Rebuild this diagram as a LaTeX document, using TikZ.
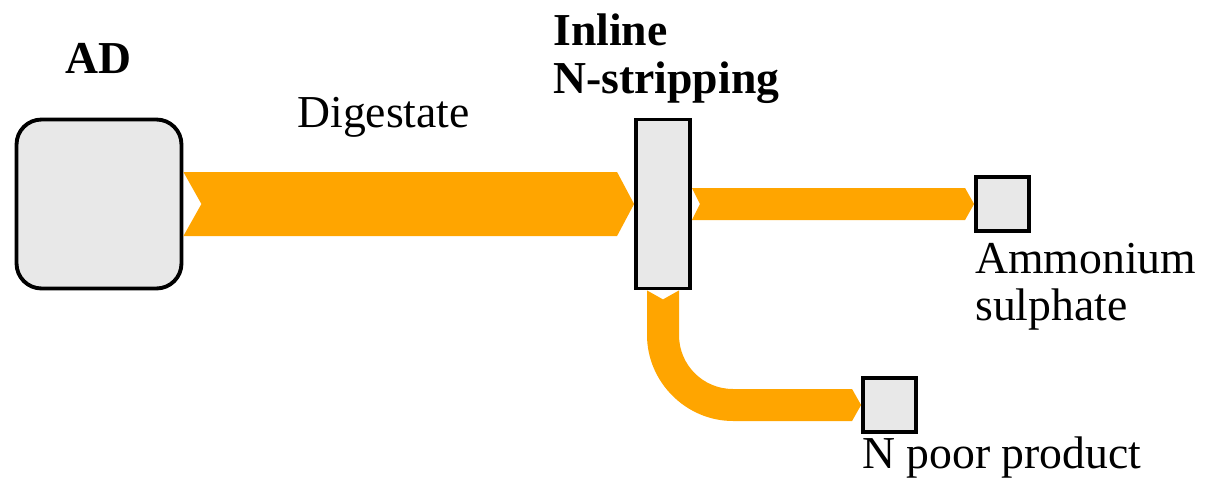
\documentclass[tikz,border=0pt]{standalone}
\usepackage{fontspec}
\setmainfont{Liberation Serif}
\usetikzlibrary{calc}
\definecolor{floworange}{HTML}{FFA500}
\definecolor{boxgray}{HTML}{E8E8E8}

\begin{document}
\begin{tikzpicture}[x=0.02cm,y=0.02cm,
	unit/.style={draw=black,fill=boxgray,line width=2.2pt,inner sep=0pt},
	flow/.style={fill=floworange},
	lbl/.style={inner sep=0pt,anchor=base west,align=left,font=\fontsize{26}{27}\selectfont}]
\useasboundingbox (0,0) rectangle (1208,488);
% process units
\node[unit,rounded corners=0.5cm,minimum width=3.3cm,minimum height=3.38cm] (ad) at (99,284) {};
\node[unit,minimum width=1.08cm,minimum height=3.38cm] (inline) at (663,284) {};
\node[unit,minimum width=1.06cm,minimum height=1.07cm] (amm) at (1002.5,284) {};
\node[unit,minimum width=1.06cm,minimum height=1.07cm] (npoor) at (889.5,83) {};
\coordinate (bend) at (inline.south |- npoor.west);

% flows
\fill[flow] ($(ad.east)+(0,32)$) -- ($(inline.west)+(-17,32)$) -- (inline.west)
	-- ($(inline.west)+(-17,-32)$) -- ($(ad.east)+(0,-32)$) -- ($(ad.east)+(18,0)$) -- cycle;
\fill[flow] ($(inline.east)+(0,16)$) -- ($(amm.west)+(-9,16)$) -- (amm.west)
	-- ($(amm.west)+(-9,-16)$) -- ($(inline.east)+(0,-16)$) -- ($(inline.east)+(8,0)$) -- cycle;
\fill[flow] ($(inline.south)+(-16,0)$) -- ($(inline.south)+(0,-9)$) -- ($(inline.south)+(16,0)$)
	-- ($(bend)+(16,70)$) .. controls ($(bend)+(16,40)$) and ($(bend)+(40,16)$) .. ($(bend)+(70,16)$)
	-- ($(npoor.west)+(-9,16)$) -- (npoor.west) -- ($(npoor.west)+(-9,-16)$)
	-- ($(bend)+(70,-16)$) .. controls ($(bend)+(23,-16)$) and ($(bend)+(-16,23)$) .. ($(bend)+(-16,70)$) -- cycle;

% labels
\node[lbl,font=\fontsize{26}{27}\selectfont\bfseries] (adlbl) at (65,415) {AD};
\node[lbl] (diglbl) at (297,361) {Digestate};
\node[lbl,font=\fontsize{26}{27.3}\selectfont\bfseries] (inlinelbl) at (553,395) {Inline\\N-stripping};
\node[lbl,font=\fontsize{26}{26.2}\selectfont] (ammlbl) at (975,168) {Ammonium\\sulphate};
\node[lbl] (npoorlbl) at (862,20) {N poor product};
\end{tikzpicture}
\end{document}
